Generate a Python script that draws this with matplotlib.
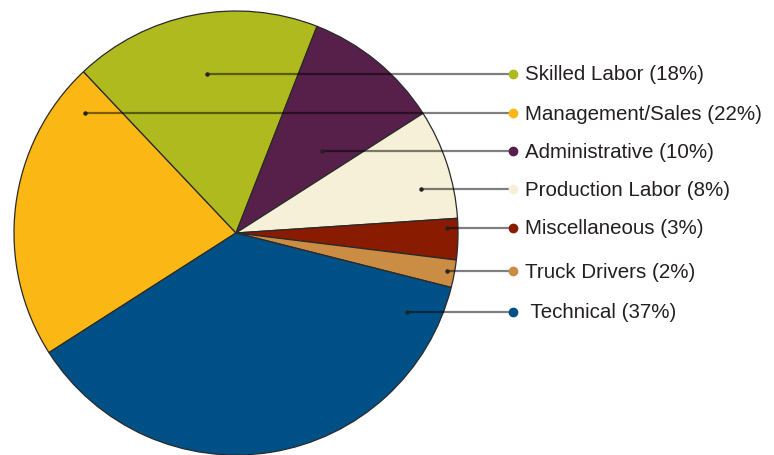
import matplotlib.pyplot as plt
import numpy as np

plt.rcParams['font.family'] = ['Liberation Sans', 'DejaVu Sans']

# pie order, clockwise starting from Management/Sales
categories = ['Management/Sales', 'Skilled Labor', 'Administrative', 'Production Labor',
              'Miscellaneous', 'Truck Drivers', 'Technical']
shares = [22, 18, 10, 8, 3, 2, 37]
colors = ['#FBB714', '#AFBA1F', '#56204A', '#F6F0D8', '#881B00', '#CB8D44', '#005088']

# legend order (top to bottom)
legend_order = ['Skilled Labor', 'Management/Sales', 'Administrative', 'Production Labor',
                'Miscellaneous', 'Truck Drivers', 'Technical']

W, H = 774, 456
fig = plt.figure(figsize=(W / 100, H / 100), dpi=100)
ax = fig.add_axes([0, 0, 1, 1])

cx, cy, R = 236, H - 234, 222
ax.pie(shares, colors=colors, startangle=212.6, counterclock=False,
       center=(cx, cy), radius=R, frame=True,
       wedgeprops=dict(edgecolor='#2a2a2a', linewidth=0.9))
ax.set_xlim(0, W)
ax.set_ylim(0, H)
ax.set_aspect('equal')
ax.axis('off')

# leader layout (pixels from top) and start x inside the pie
label_y = [75, 114, 152, 190, 229, 272, 313]
start_x = [207, 85, 322, 421, 447, 447, 407]
dot_x, text_x, end_x = 513, 525, 510

for name, ly, sx in zip(legend_order, label_y, start_x):
    i = categories.index(name)
    y = H - ly
    ax.plot([sx, end_x], [y, y], color='black', alpha=0.5, lw=1.6,
            solid_capstyle='butt', zorder=5)
    ax.plot([sx], [y], 'o', color='#222222', ms=2.2, zorder=6)
    ax.plot([dot_x], [y], 'o', color=colors[i], ms=6, zorder=6)
    pad = ' ' if name == 'Technical' else ''
    ax.text(text_x, y, f'{pad}{name} ({shares[i]}%)', fontsize=14.8,
            color='#231f20', va='center', ha='left', zorder=7)

fig.savefig('out.png', dpi=100)
